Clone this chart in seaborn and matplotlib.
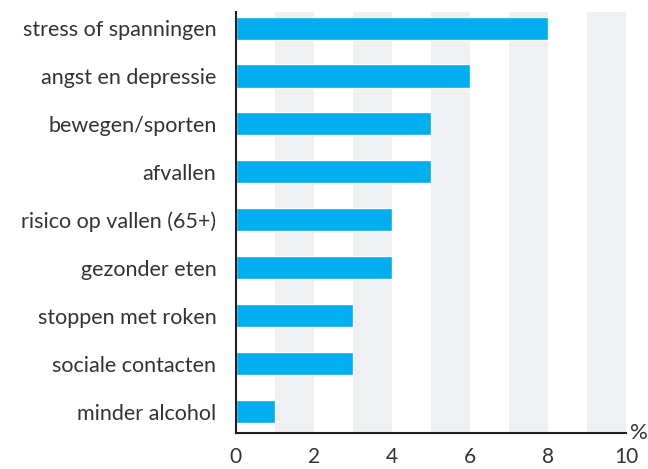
import matplotlib.pyplot as plt
import seaborn as sns
import pandas as pd

# data
categories = ['stress of spanningen', 'angst en depressie', 'bewegen/sporten', 'afvallen',
              'risico op vallen (65+)', 'gezonder eten', 'stoppen met roken',
              'sociale contacten', 'minder alcohol']
values = [8, 6, 5, 5, 4, 4, 3, 3, 1]
xticks = [0, 2, 4, 6, 8, 10]

df = pd.DataFrame({'categorie': categories, 'waarde': values})

sns.set_style('white')
plt.rcParams['font.family'] = ['Lato', 'DejaVu Sans']

fig = plt.figure(figsize=(6.48, 4.69), dpi=100)
ax = fig.add_axes([0.364, 0.077, 0.602, 0.897])

# grijze banden
for start in range(1, 10, 2):
    ax.axvspan(start, start + 1, color='#eff0f2', zorder=0, lw=0)

sns.barplot(data=df, x='waarde', y='categorie', color='#00aeef', saturation=1,
            width=0.48, ax=ax, zorder=2)

ax.set_xlim(0, 10)
ax.set_ylim(8.44, -0.33)
ax.set_xticks(xticks)
ax.set_xlabel('')
ax.set_ylabel('')

for s in ['top', 'right']:
    ax.spines[s].set_visible(False)
for s in ['left', 'bottom']:
    ax.spines[s].set_color('#231f20')
    ax.spines[s].set_linewidth(1.5)

ax.tick_params(axis='x', direction='out', length=5, width=1.5, color='#231f20',
               labelsize=15, labelcolor='#333333', pad=5)
ax.tick_params(axis='y', length=0, labelsize=15.5, labelcolor='#333333', pad=14)

ax.text(1.01, 0.0, '%', transform=ax.transAxes, fontsize=16, color='#333333',
        ha='left', va='center')

fig.savefig('out.png', dpi=100)
